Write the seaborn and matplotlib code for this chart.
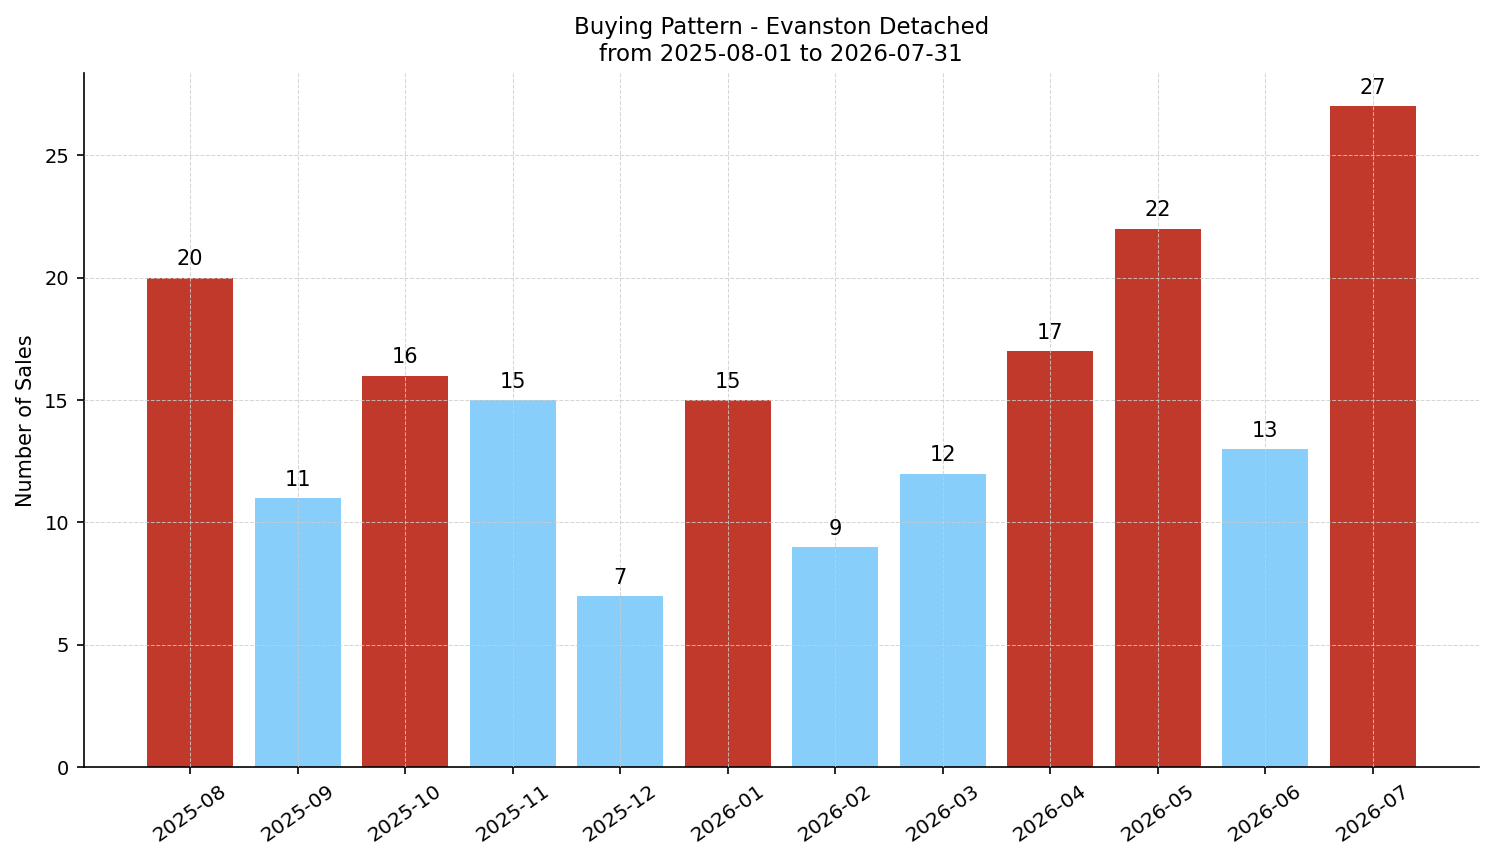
import matplotlib
matplotlib.use("Agg")
import matplotlib.pyplot as plt
import seaborn as sns
import pandas as pd

months = ["2025-08", "2025-09", "2025-10", "2025-11", "2025-12", "2026-01",
          "2026-02", "2026-03", "2026-04", "2026-05", "2026-06", "2026-07"]
sales = [20, 11, 16, 15, 7, 15, 9, 12, 17, 22, 13, 27]
bar_colors = ["#C0392B", "#87CEFA", "#C0392B", "#87CEFA", "#87CEFA", "#C0392B",
              "#87CEFA", "#87CEFA", "#C0392B", "#C0392B", "#87CEFA", "#C0392B"]

df = pd.DataFrame({"month": months, "sales": sales})

plt.rcParams['font.family'] = ['DejaVu Sans']
plt.rcParams['axes.linewidth'] = 1.2
plt.rcParams['xtick.major.size'] = 5.25
plt.rcParams['ytick.major.size'] = 5.25
plt.rcParams['xtick.major.width'] = 1.2
plt.rcParams['ytick.major.width'] = 1.2
plt.rcParams['xtick.major.pad'] = 5.25
plt.rcParams['ytick.major.pad'] = 5.25

fig, ax = plt.subplots(figsize=(14.94, 8.63), dpi=100)
sns.barplot(data=df, x="month", y="sales", hue="month", palette=bar_colors,
            legend=False, width=0.8, saturation=1, ax=ax, edgecolor="none")

for i, v in enumerate(sales):
    ax.annotate(str(v), (i, v), xytext=(0, 6), textcoords="offset points",
                ha="center", va="bottom", fontsize=15, color="black")

ax.set_xlim(-0.99, 11.99)
ax.set_ylim(0, max(sales) * 1.05)
ax.set_xlabel("")
ax.set_ylabel("Number of Sales", fontsize=15, labelpad=6)
ax.set_title("Buying Pattern - Evanston Detached\nfrom 2025-08-01 to 2026-07-31",
             fontsize=16.5, pad=9)
ax.tick_params(axis="x", labelrotation=35, labelsize=14.5)
ax.tick_params(axis="y", labelsize=14)
for lab in ax.get_xticklabels():
    lab.set_ha("center")
ax.grid(True, linestyle="--", linewidth=0.75, color="#cccccc", alpha=0.8)
ax.set_axisbelow(False)
sns.despine(ax=ax)

fig.subplots_adjust(left=0.056, right=0.99, top=0.915, bottom=0.111)
fig.savefig("out.png", dpi=100)
